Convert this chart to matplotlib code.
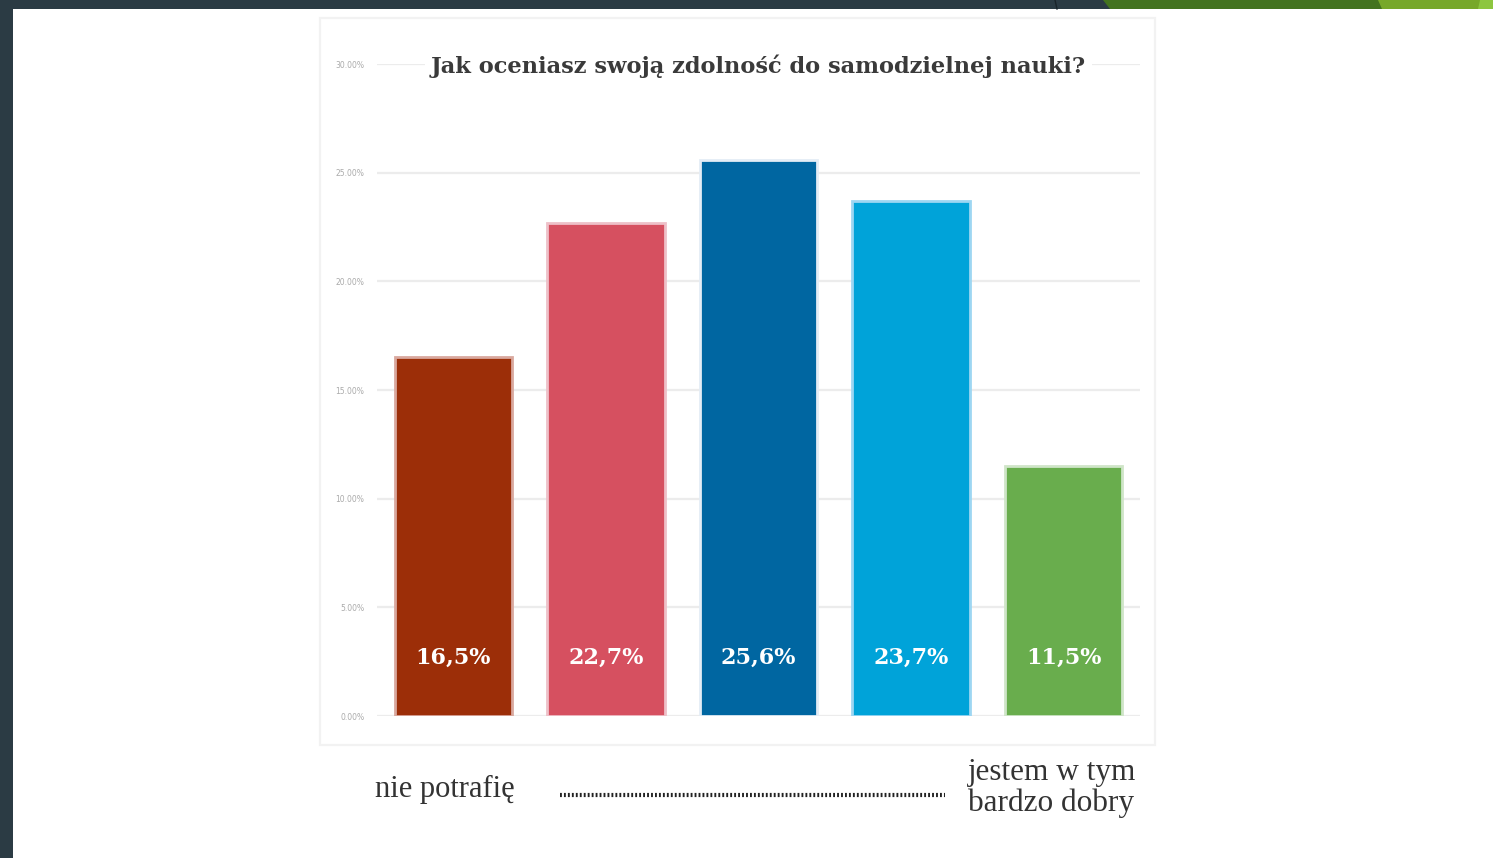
import matplotlib
matplotlib.use("Agg")
import matplotlib.pyplot as plt
from matplotlib.patches import Rectangle, Polygon
from matplotlib.lines import Line2D

# ---- data ----
categories = ["1", "2", "3", "4", "5"]
values = [16.5, 22.7, 25.6, 23.7, 11.5]
value_labels = ["16,5%", "22,7%", "25,6%", "23,7%", "11,5%"]
bar_colors = ["#9c2e08", "#d65060", "#0066a1", "#00a3d9", "#69ad4d"]
edge_colors = ["#d9a89e", "#eec0c8", "#e4edf6", "#9dd6f2", "#cfe5c8"]
yticks = [0, 5, 10, 15, 20, 25, 30]
ytick_labels = ["0.00%", "5.00%", "10.00%", "15.00%", "20.00%", "25.00%", "30.00%"]
title = "Jak oceniasz swoją zdolność do samodzielnej nauki?"
left_label = "nie potrafię"
right_label = "jestem w tym\nbardzo dobry"

W, H = 1493, 858
fig = plt.figure(figsize=(W / 100, H / 100), dpi=100)
fig.patch.set_facecolor("white")

def fx(px):
    return px / W

def fy(py):
    return 1 - py / H

# slide frame
fig.add_artist(Rectangle((0, fy(9)), 1, 9 / H, transform=fig.transFigure,
                         facecolor="#2b3b44", edgecolor="none", zorder=0))
fig.add_artist(Rectangle((0, 0), fx(13), 1, transform=fig.transFigure,
                         facecolor="#2b3b44", edgecolor="none", zorder=0))
# green decorative shapes top-right
fig.add_artist(Polygon([(fx(1103), 1), (fx(1110), fy(9)), (fx(1400), fy(9)), (fx(1400), 1)],
                       closed=True, transform=fig.transFigure, facecolor="#43731f",
                       edgecolor="none", zorder=1))
fig.add_artist(Polygon([(fx(1378), 1), (fx(1382), fy(9)), (fx(1482), fy(9)), (fx(1485), 1)],
                       closed=True, transform=fig.transFigure, facecolor="#77a82a",
                       edgecolor="none", zorder=1))
fig.add_artist(Polygon([(fx(1480), 1), (fx(1478), fy(9)), (1, fy(9)), (1, 1)],
                       closed=True, transform=fig.transFigure, facecolor="#8dc63f",
                       edgecolor="none", zorder=1))
fig.add_artist(Line2D([fx(1055), fx(1057)], [1, fy(9)], transform=fig.transFigure,
                      color="#1a242a", lw=1, zorder=2))

# chart panel border
fig.add_artist(Rectangle((fx(320), fy(745)), fx(1155) - fx(320), fy(18) - fy(745),
                         transform=fig.transFigure, facecolor="none",
                         edgecolor="#f2f2f2", lw=1.6, zorder=1))

# axes
ax = fig.add_axes([fx(377), fy(716), fx(1140) - fx(377), fy(64) - fy(716)])
ax.set_facecolor("none")
x = list(range(len(categories)))
ax.bar(x, values, width=0.77, color=bar_colors, edgecolor=edge_colors,
       linewidth=2, zorder=3)
ax.set_xlim(-0.5, 4.5)
ax.set_ylim(0, 30)
ax.set_yticks(yticks)
ax.set_yticklabels(ytick_labels, fontsize=5.5, color="#aaaaaa")
ax.tick_params(axis="y", length=0, pad=9)
ax.set_xticks([])
for s in ax.spines.values():
    s.set_visible(False)
ax.yaxis.grid(True, color="#ececec", lw=1.6, zorder=0)
ax.set_axisbelow(True)

for xi, lab in zip(x, value_labels):
    ax.text(xi, 2.7, lab, ha="center", va="center", color="white",
            fontsize=16, fontweight="bold", family="DejaVu Serif", zorder=5)

# title with white background over top gridline
ax.text(2.0, 29.9, title, ha="center", va="center", fontsize=16.2,
        fontweight="bold", family="DejaVu Serif", color="#3a3a3a", zorder=6,
        bbox=dict(facecolor="white", edgecolor="none", pad=4))

# bottom scale labels
fig.text(fx(375), fy(789), left_label, ha="left", va="center", fontsize=22,
         family="Liberation Serif", color="#333333")
fig.add_artist(Line2D([fx(560), fx(945)], [fy(795), fy(795)], transform=fig.transFigure,
                      color="#222222", lw=3, linestyle=(0, (0.45, 0.5))))
fig.text(fx(968), fy(788), right_label, ha="left", va="center", fontsize=22.5,
         family="Liberation Serif", color="#333333", linespacing=1.05)

fig.savefig("out.png", dpi=100)
